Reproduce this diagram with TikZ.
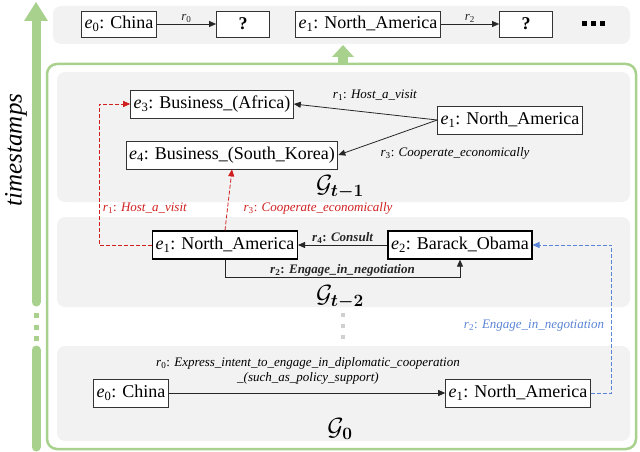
\documentclass[tikz,border=0pt]{standalone}
\usepackage{fontspec}
\setmainfont{Liberation Serif}
\usepackage{amsmath,bm}
\usetikzlibrary{arrows.meta,positioning,calc}

\definecolor{tsgreen}{HTML}{A9D18E}
\definecolor{panelgray}{HTML}{F2F2F2}
\definecolor{dotgray}{HTML}{D0D0D0}
\definecolor{relred}{HTML}{D01F1F}
\definecolor{relblue}{HTML}{5B84D6}

\newcommand{\ent}[2]{\textit{e}\textsubscript{#1}: #2}
\newcommand{\rel}[2]{\textit{r}\textsubscript{#1}: \textit{#2}}

\tikzset{
  ent/.style={draw=black!80, line width=0.8pt, fill=white, inner sep=3pt,
    minimum height=28pt, font=\fontsize{18}{18}\selectfont},
  entbold/.style={ent, line width=1.3pt, draw=black},
  rellabel/.style={font=\fontsize{13}{15}\selectfont, inner sep=1pt},
  panel/.style={fill=panelgray, rounded corners=8pt},
  glabel/.style={font=\fontsize{27}{27}\selectfont, inner sep=0pt},
  tip/.style={-{Triangle[length=7pt,width=6pt]}, line width=0.8pt, black!85},
  reddash/.style={tip, relred, dash pattern=on 4pt off 2pt},
  bluedash/.style={tip, relblue, dash pattern=on 4pt off 2pt},
}

\begin{document}
\begin{tikzpicture}[x=1pt, y=-1pt]
\useasboundingbox (0,0) rectangle (640,452);

% timestamps axis
\draw[tsgreen, line width=9pt, line cap=round] (36,302) -- (36,18);
\draw[tsgreen, line width=9pt, line cap=round] (36,350) -- (36,447);
\fill[tsgreen] (24,21) -- (36,2) -- (48,21) -- cycle;
\foreach \yy in {315,327,338}
  \fill[tsgreen] (33.5,\yy-2.5) rectangle (38.5,\yy+2.5);
\node[rotate=90, font=\fontsize{25}{25}\selectfont\itshape] (ts) at (16,150) {timestamps};

% frame
\draw[tsgreen, line width=2.5pt, rounded corners=10pt] (47,64) rectangle (636,449);
\fill[tsgreen] (338,56) rectangle (348,64);
\fill[tsgreen] (332,57) -- (343,45) -- (354,57) -- cycle;

% panels
\fill[panel] (53,6) rectangle (630,44);
\fill[panel] (57,72) rectangle (630,202);
\fill[panel] (57,217) rectangle (630,307);
\fill[panel] (57,346) rectangle (630,441);
\foreach \yy in {315,326,337}
  \fill[dotgray] (341,\yy-2) rectangle (345,\yy+2);

% top row
\node[ent, minimum height=26pt] (q0) at (119,24) {\ent{0}{China}};
\node[ent, minimum height=26pt, minimum width=53pt] (a0) at (243,24) {\textbf{?}};
\node[ent, minimum height=26pt] (q1) at (368,24) {\ent{1}{North\_America}};
\node[ent, minimum height=26pt, minimum width=53pt] (a1) at (526,24) {\textbf{?}};
\draw[tip] (q0) -- node[above, rellabel] {\textit{r}\textsubscript{0}} (a0);
\draw[tip] (q1) -- node[above, rellabel] {\textit{r}\textsubscript{2}} (a1);
\foreach \xx in {584,593,602}
  \fill (\xx-2.5,24-2.5) rectangle (\xx+2.5,24+2.5);

% G_{t-1}
\node[ent] (af) at (212,104) {\ent{3}{Business\_(Africa)}};
\node[ent] (sk) at (232,155) {\ent{4}{Business\_(South\_Korea)}};
\node[ent] (na1) at (510,120) {\ent{1}{North\_America}};
\draw[tip] (na1.west) -- (af.east);
\draw[tip] (na1.west) -- (sk.east);
\node[rellabel] (l1) at (375,95) {\rel{1}{Host\_a\_visit}};
\node[rellabel] (l3) at (455,153) {\rel{3}{Cooperate\_economically}};
\node[glabel] (g1) at (340,187) {$\mathcal{G}_{\bm{t-1}}$};

% G_{t-2}
\node[entbold] (na2) at (225,245) {\ent{1}{North\_America}};
\node[entbold] (ob) at (460,245) {\ent{2}{Barack\_Obama}};
\draw[tip] (ob) -- node[above, rellabel] {\textbf{\rel{4}{Consult}}} (na2);
\draw[tip] (na2.south) -- ++(0,18) -| node[pos=0.25, above, rellabel] {\textbf{\rel{2}{Engage\_in\_negotiation}}} (ob.south);
\node[glabel] (g2) at (340,297) {$\mathcal{G}_{\bm{t-2}}$};

% cross-time links
\draw[reddash] (na2.west) -- ++(-53,0) |- (af.west);
\draw[reddash] (na2.north) -- (sk.south);
\node[rellabel, text=relred] (l1r) at (145,208) {\rel{1}{Host\_a\_visit}};
\node[rellabel, text=relred] (l3r) at (318,208) {\rel{3}{Cooperate\_economically}};

% G_0
\node[ent] (ch) at (131,393) {\ent{0}{China}};
\node[ent] (na0) at (518,393) {\ent{1}{North\_America}};
\draw[tip] (ch) -- (na0);
\node[rellabel, align=center] (l0) at (308,371)
  {\rel{0}{Express\_intent\_to\_engage\_in\_diplomatic\_cooperation}\\ \textit{\_(such\_as\_policy\_support)}};
\node[glabel] (g0) at (340,429) {$\mathcal{G}_{\bm{0}}$};
\draw[bluedash] (na0.east) -- ++(21,0) |- (ob.east);
\node[rellabel, text=relblue] (l2b) at (534,326) {\rel{2}{Engage\_in\_negotiation}};
\end{tikzpicture}
\end{document}
